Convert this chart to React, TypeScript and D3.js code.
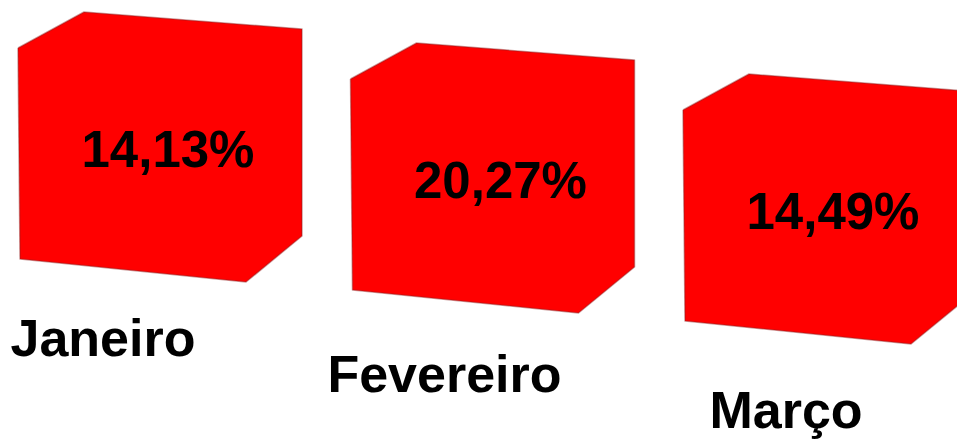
import { useEffect, useRef } from "react";
import * as d3 from "d3";

const categories = ["Janeiro", "Fevereiro", "Março"];
const values = [14.13, 20.27, 14.49];

const W = 957;
const H = 439;

// outline of one box seen in perspective, relative to its front-left top corner
const boxShape: [number, number][] = [
  [0, 0],
  [66, -36],
  [284, -19],
  [284, 188],
  [228, 234],
  [2, 211],
];

const fmt = (v: number) => v.toFixed(2).replace(".", ",") + "%";

const App = () => {
  const svgRef = useRef<SVGSVGElement>(null);

  useEffect(() => {
    const svg = d3.select(svgRef.current);
    svg.selectAll("*").remove();

    const xBox = d3.scalePoint<string>().domain(categories).range([18, 683]);
    const yBox = d3.scalePoint<string>().domain(categories).range([48, 110]);
    const xLabel = d3.scalePoint<string>().domain(categories).range([103, 786]);
    const yLabel = d3.scalePoint<string>().domain(categories).range([356, 428]);

    const line = d3.line();

    const g = svg
      .selectAll("g.box")
      .data(categories)
      .enter()
      .append("g")
      .attr("class", "box")
      .attr("transform", (d) => `translate(${xBox(d)}, ${yBox(d)})`);

    // box
    g.append("path")
      .attr("d", line(boxShape.concat([boxShape[0]])) as string)
      .attr("fill", "#ff0000")
      .attr("stroke", "rgba(140,30,30,0.45)")
      .attr("stroke-width", 1.5)
      .attr("stroke-linejoin", "round");

    // value label
    g.append("text")
      .attr("x", 150)
      .attr("y", 119)
      .attr("text-anchor", "middle")
      .style("font-family", "'Liberation Sans', Arial, sans-serif")
      .style("font-weight", "bold")
      .style("font-size", "51px")
      .attr("fill", "#000")
      .text((d, i) => fmt(values[i]));

    // category labels
    svg
      .selectAll("text.cat")
      .data(categories)
      .enter()
      .append("text")
      .attr("class", "cat")
      .attr("x", (d) => xLabel(d) as number)
      .attr("y", (d) => yLabel(d) as number)
      .attr("text-anchor", "middle")
      .style("font-family", "'Liberation Sans', Arial, sans-serif")
      .style("font-weight", "bold")
      .style("font-size", "52px")
      .attr("fill", "#000")
      .text((d) => d);
  }, []);

  return (
    <svg
      ref={svgRef}
      width={W}
      height={H}
      viewBox={`0 0 ${W} ${H}`}
      style={{ position: "absolute", left: 0, top: 0, background: "#fff" }}
    ></svg>
  );
};

export default App;
